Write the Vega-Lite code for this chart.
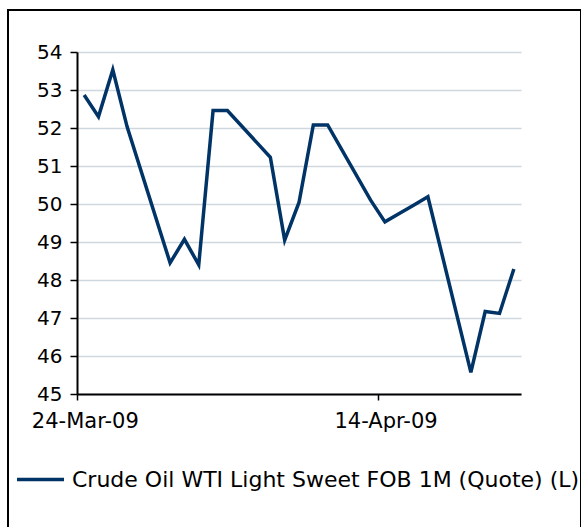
{
  "$schema": "https://vega.github.io/schema/vega-lite/v6.json",
  "width": 573,
  "height": 530,
  "autosize": {"type": "none"},
  "padding": {"left": 8, "top": 10, "right": 0, "bottom": 0},
  "background": "white",
  "config": {"view": {"stroke": "black", "strokeWidth": 2}, "font": "DejaVu Sans"},
  "data": {
    "values": [
      {"date": "2009-03-24", "value": 52.87, "series": "Crude Oil WTI Light Sweet FOB 1M (Quote) (L)"},
      {"date": "2009-03-25", "value": 52.30, "series": "Crude Oil WTI Light Sweet FOB 1M (Quote) (L)"},
      {"date": "2009-03-26", "value": 53.53, "series": "Crude Oil WTI Light Sweet FOB 1M (Quote) (L)"},
      {"date": "2009-03-27", "value": 52.03, "series": "Crude Oil WTI Light Sweet FOB 1M (Quote) (L)"},
      {"date": "2009-03-30", "value": 48.45, "series": "Crude Oil WTI Light Sweet FOB 1M (Quote) (L)"},
      {"date": "2009-03-31", "value": 49.07, "series": "Crude Oil WTI Light Sweet FOB 1M (Quote) (L)"},
      {"date": "2009-04-01", "value": 48.40, "series": "Crude Oil WTI Light Sweet FOB 1M (Quote) (L)"},
      {"date": "2009-04-02", "value": 52.46, "series": "Crude Oil WTI Light Sweet FOB 1M (Quote) (L)"},
      {"date": "2009-04-03", "value": 52.46, "series": "Crude Oil WTI Light Sweet FOB 1M (Quote) (L)"},
      {"date": "2009-04-06", "value": 51.23, "series": "Crude Oil WTI Light Sweet FOB 1M (Quote) (L)"},
      {"date": "2009-04-07", "value": 49.05, "series": "Crude Oil WTI Light Sweet FOB 1M (Quote) (L)"},
      {"date": "2009-04-08", "value": 50.04, "series": "Crude Oil WTI Light Sweet FOB 1M (Quote) (L)"},
      {"date": "2009-04-09", "value": 52.08, "series": "Crude Oil WTI Light Sweet FOB 1M (Quote) (L)"},
      {"date": "2009-04-10", "value": 52.08, "series": "Crude Oil WTI Light Sweet FOB 1M (Quote) (L)"},
      {"date": "2009-04-13", "value": 50.10, "series": "Crude Oil WTI Light Sweet FOB 1M (Quote) (L)"},
      {"date": "2009-04-14", "value": 49.53, "series": "Crude Oil WTI Light Sweet FOB 1M (Quote) (L)"},
      {"date": "2009-04-15", "value": 49.75, "series": "Crude Oil WTI Light Sweet FOB 1M (Quote) (L)"},
      {"date": "2009-04-16", "value": 49.97, "series": "Crude Oil WTI Light Sweet FOB 1M (Quote) (L)"},
      {"date": "2009-04-17", "value": 50.19, "series": "Crude Oil WTI Light Sweet FOB 1M (Quote) (L)"},
      {"date": "2009-04-20", "value": 45.57, "series": "Crude Oil WTI Light Sweet FOB 1M (Quote) (L)"},
      {"date": "2009-04-21", "value": 47.17, "series": "Crude Oil WTI Light Sweet FOB 1M (Quote) (L)"},
      {"date": "2009-04-22", "value": 47.12, "series": "Crude Oil WTI Light Sweet FOB 1M (Quote) (L)"},
      {"date": "2009-04-23", "value": 48.29, "series": "Crude Oil WTI Light Sweet FOB 1M (Quote) (L)"}
    ]
  },
  "mark": {"type": "line", "strokeWidth": 3.5, "strokeJoin": "miter"},
  "encoding": {
    "x": {
      "field": "date",
      "type": "temporal",
      "scale": {
        "type": "utc",
        "domain": [
          {"year": 2009, "month": 3, "date": 23, "hours": 12, "utc": true},
          {"year": 2009, "month": 4, "date": 23, "hours": 12, "utc": true}
        ],
        "range": [69, 513]
      },
      "axis": {
        "title": null,
        "values": [
          {"year": 2009, "month": 3, "date": 24, "utc": true},
          {"year": 2009, "month": 4, "date": 14, "utc": true}
        ],
        "format": "%d-%b-%y",
        "offset": -146,
        "grid": false,
        "domainColor": "black",
        "domainWidth": 2,
        "tickColor": "black",
        "tickWidth": 1.5,
        "tickSize": 6,
        "tickOffset": -7.16,
        "labelOffset": 7.8,
        "labelFlush": false,
        "labelFontSize": 21,
        "labelColor": "black",
        "labelPadding": 10,
        "labelFont": "DejaVu Sans"
      }
    },
    "y": {
      "field": "value",
      "type": "quantitative",
      "scale": {"domain": [45, 54], "range": [384, 42], "nice": false, "zero": false},
      "axis": {
        "title": null,
        "values": [45, 46, 47, 48, 49, 50, 51, 52, 53, 54],
        "offset": -69,
        "grid": true,
        "gridColor": "#cfd8df",
        "gridWidth": 1.5,
        "domainColor": "black",
        "domainWidth": 2,
        "tickColor": "black",
        "tickWidth": 1.5,
        "tickSize": 7,
        "labelFontSize": 20,
        "labelColor": "black",
        "labelPadding": 8,
        "labelFont": "DejaVu Sans"
      }
    },
    "color": {
      "field": "series",
      "type": "nominal",
      "scale": {"range": ["#003366"]},
      "legend": {
        "orient": "none",
        "legendX": 7,
        "legendY": 444,
        "title": null,
        "symbolType": "stroke",
        "symbolSize": 2209,
        "symbolStrokeWidth": 3.5,
        "labelFontSize": 22,
        "labelColor": "black",
        "labelFont": "DejaVu Sans",
        "labelOffset": 6,
        "labelLimit": 1000,
        "padding": 0
      }
    }
  }
}
